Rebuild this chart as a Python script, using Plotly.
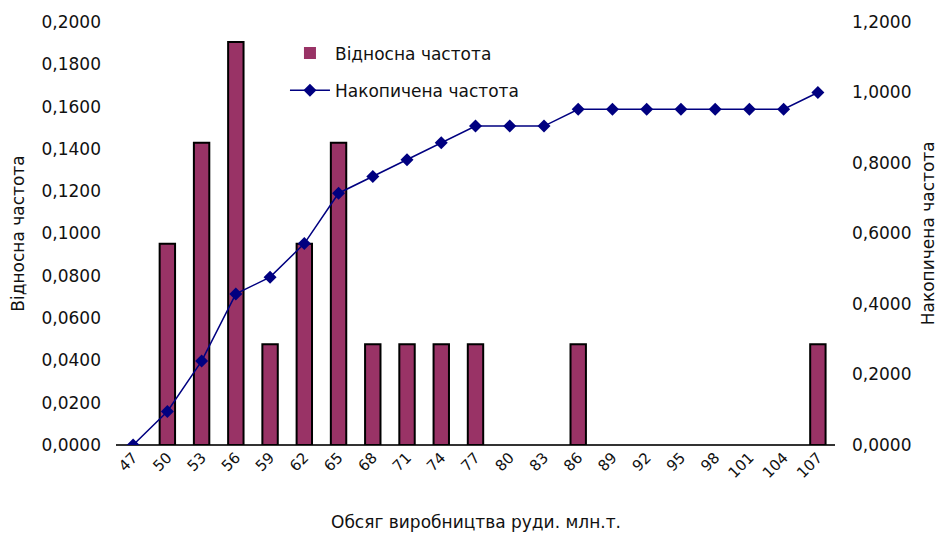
import plotly.graph_objects as go

# Ore output classes, million tonnes
categories = ["47", "50", "53", "56", "59", "62", "65", "68", "71", "74", "77",
              "80", "83", "86", "89", "92", "95", "98", "101", "104", "107"]

# Relative frequency per class
relative_freq = [0.0, 0.0952, 0.1429, 0.1905, 0.0476, 0.0952, 0.1429, 0.0476,
                 0.0476, 0.0476, 0.0476, 0.0, 0.0, 0.0476, 0.0, 0.0, 0.0, 0.0,
                 0.0, 0.0, 0.0476]

# Cumulative frequency per class
cumulative_freq = [0.0, 0.0952, 0.2381, 0.4286, 0.4762, 0.5714, 0.7143, 0.7619,
                   0.8095, 0.8571, 0.9048, 0.9048, 0.9048, 0.9524, 0.9524, 0.9524,
                   0.9524, 0.9524, 0.9524, 0.9524, 1.0]

left_ticks = [i * 0.02 for i in range(11)]
right_ticks = [i * 0.2 for i in range(7)]


def fmt(v):
    return f"{v:.4f}".replace(".", ",")


FONT = "DejaVu Sans"
TXT = "#111111"
FS = 17

# empty classes get no outline so nothing is drawn for them
outline_w = [2 if v > 0 else 0 for v in relative_freq]

fig = go.Figure()
fig.add_trace(go.Bar(
    x=categories, y=relative_freq, name="Відносна частота",
    legendgroup="a",
    marker=dict(color="#993366", line=dict(color="#000000", width=outline_w)),
    yaxis="y",
))
fig.add_trace(go.Scatter(
    x=categories, y=cumulative_freq, name="Накопичена частота",
    legendgroup="b",
    mode="lines+markers",
    line=dict(color="#000080", width=1.5),
    marker=dict(symbol="diamond", size=10, color="#000080"),
    yaxis="y2",
))

fig.update_layout(
    width=937, height=537,
    margin=dict(l=116, r=102, t=22, b=92),
    paper_bgcolor="white", plot_bgcolor="white",
    font=dict(family=FONT, size=FS, color=TXT),
    bargap=0.55,
    showlegend=True,
    legend=dict(x=0.235, y=0.968, xanchor="left", yanchor="top",
                bgcolor="rgba(0,0,0,0)", font=dict(size=FS, family=FONT),
                tracegroupgap=12, itemwidth=40),
    xaxis=dict(
        type="category", tickangle=-45, showgrid=False,
        showline=False, ticks="", zeroline=False,
        tickfont=dict(size=15, family=FONT),
        range=[-0.5, 20.5], automargin=False,
    ),
    yaxis=dict(
        range=[0, 0.2], tickvals=left_ticks, ticktext=[fmt(v) for v in left_ticks],
        showgrid=False, zeroline=True, zerolinecolor="#333333", zerolinewidth=1.5,
        showline=False, ticks="", ticklabelstandoff=14,
        tickfont=dict(size=FS, family=FONT),
        title=dict(text="Відносна частота", font=dict(size=FS, family=FONT), standoff=12),
    ),
    yaxis2=dict(
        range=[0, 1.2], tickvals=right_ticks, ticktext=[fmt(v) for v in right_ticks],
        overlaying="y", side="right",
        showgrid=False, zeroline=False, showline=False, ticks="",
        ticklabelstandoff=16, automargin=False,
        tickfont=dict(size=FS, family=FONT),
    ),
    annotations=[
        dict(text="Обсяг виробництва руди. млн.т.", xref="paper", yref="paper",
             x=0.5, y=-0.182, xanchor="center", yanchor="middle",
             showarrow=False, font=dict(size=FS, family=FONT, color=TXT)),
        dict(text="Накопичена частота", xref="paper", yref="paper",
             x=1.129, y=0.5, xanchor="center", yanchor="middle", textangle=-90,
             showarrow=False, font=dict(size=FS, family=FONT, color=TXT)),
    ],
)

fig.write_html("out.html")
